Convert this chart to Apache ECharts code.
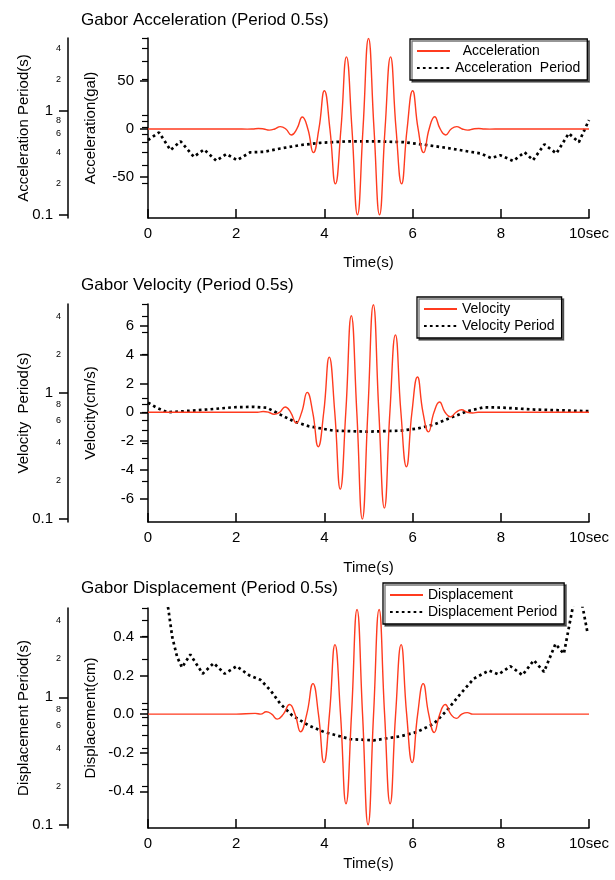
<!DOCTYPE html>
<html><head><meta charset="utf-8">
<script src="https://cdn.jsdelivr.net/npm/echarts@6/dist/echarts.min.js"></script>
<style>html,body{margin:0;padding:0;background:#fff}#c{width:615px;height:880px}</style>
</head><body><div id="c"></div>
<script>
// ---------- data ----------
const titles = ['Gabor Acceleration (Period 0.5s)', 'Gabor Velocity (Period 0.5s)', 'Gabor Displacement (Period 0.5s)'];
const xTickLabels = ['0', '2', '4', '6', '8', '10sec'];

const accT = [0, 1, 2, 2.25, 2.375, 2.5, 2.625, 2.75, 2.875, 3, 3.125, 3.25, 3.375, 3.5, 3.625, 3.75, 3.875, 4, 4.125, 4.25, 4.375, 4.5, 4.625, 4.75, 4.875, 5, 5.125, 5.25, 5.375, 5.5, 5.625, 5.75, 5.875, 6, 6.125, 6.25, 6.375, 6.5, 6.625, 6.75, 6.875, 7, 7.125, 7.25, 7.375, 7.5, 7.625, 7.75, 8, 9, 10];
const accV = [0, 0, 0, -0.2, 0, 0.5, 0, -1.2, 0, 2.4, 0, -6.3, 0, 12.5, 0, -24.7, 0, 39.9, 0, -57.3, 0, 75.3, 0, -89.6, 0, 94.5, 0, -89.6, 0, 75.3, 0, -57.3, 0, 39.9, 0, -24.7, 0, 12.8, 0, -6.3, 0, 2.4, 0, -1.2, 0, 0.5, 0, -0.2, 0, 0, 0];
const accPT = [0, 0.25, 0.51, 0.74, 1.04, 1.27, 1.55, 1.78, 2.02, 2.32, 2.63, 3.0, 3.46, 3.91, 4.52, 5.2, 5.8, 6.33, 6.86, 7.31, 7.54, 7.78, 7.99, 8.28, 8.54, 8.73, 8.99, 9.26, 9.54, 9.77, 10];
const accP = [0.524, 0.62, 0.42, 0.51, 0.362, 0.426, 0.332, 0.385, 0.336, 0.40, 0.404, 0.435, 0.469, 0.493, 0.509, 0.509, 0.5, 0.469, 0.435, 0.404, 0.39, 0.352, 0.375, 0.33, 0.40, 0.336, 0.476, 0.39, 0.607, 0.5, 0.815];

const velT = [0, 1, 2, 2.36, 2.485, 2.61, 2.735, 2.86, 2.985, 3.11, 3.235, 3.36, 3.485, 3.61, 3.735, 3.86, 3.985, 4.11, 4.235, 4.36, 4.485, 4.61, 4.735, 4.86, 4.985, 5.11, 5.235, 5.36, 5.485, 5.61, 5.735, 5.86, 5.985, 6.11, 6.235, 6.36, 6.485, 6.61, 6.735, 6.86, 6.985, 7.11, 7.235, 7.36, 7.485, 8, 9, 10];
const velV = [0, 0, 0, 0, 0, 0.05, 0, -0.14, 0, 0.37, 0, -0.74, 0, 1.38, 0, -2.39, 0, 3.82, 0, -5.33, 0, 6.69, 0, -7.4, 0, 7.45, 0, -6.64, 0, 5.36, 0, -3.77, 0, 2.44, 0, -1.36, 0, 0.71, 0, -0.32, 0, 0.18, 0, -0.05, 0, 0, 0, 0];
const velPT = [0, 0.2, 0.44, 0.81, 1.34, 1.95, 2.4, 2.7, 3.0, 3.31, 3.65, 4.21, 4.97, 5.73, 6.1, 6.48, 6.86, 7.24, 7.62, 7.99, 8.75, 10];
const velP = [0.83, 0.757, 0.698, 0.711, 0.733, 0.764, 0.77, 0.757, 0.668, 0.59, 0.54, 0.499, 0.49, 0.499, 0.518, 0.557, 0.63, 0.711, 0.764, 0.76, 0.733, 0.711];

const dispT = [0, 1, 2, 2.43, 2.555, 2.68, 2.805, 2.93, 3.07, 3.21, 3.335, 3.46, 3.6, 3.74, 3.865, 3.99, 4.115, 4.24, 4.365, 4.49, 4.615, 4.74, 4.865, 4.99, 5.115, 5.24, 5.365, 5.49, 5.615, 5.74, 5.865, 5.99, 6.115, 6.24, 6.365, 6.49, 6.615, 6.74, 6.865, 6.99, 7.115, 7.24, 7.365, 7.6, 8, 9, 10];
const dispV = [0, 0, 0, 0.004, 0, 0.012, 0, -0.026, 0, 0.05, 0, -0.091, 0, 0.158, 0, -0.251, 0, 0.36, 0, -0.464, 0, 0.542, 0, -0.573, 0, 0.542, 0, -0.464, 0, 0.36, 0, -0.251, 0, 0.158, 0, -0.095, 0, 0.05, 0, -0.022, 0, 0.008, 0, 0, 0, 0, 0];
const dispPT = [0, 0.3, 0.46, 0.55, 0.66, 0.77, 0.96, 1.24, 1.49, 1.74, 2.01, 2.29, 2.55, 2.78, 3.0, 3.27, 3.65, 3.99, 4.59, 5.12, 5.73, 6.1, 6.48, 6.78, 7.09, 7.39, 7.73, 7.95, 8.22, 8.49, 8.75, 8.98, 9.24, 9.43, 9.62, 9.75, 9.87, 9.97];
const dispP = [30, 9, 4.93, 2.96, 2.07, 1.71, 2.16, 1.53, 1.85, 1.53, 1.75, 1.49, 1.37, 1.13, 0.89, 0.72, 0.60, 0.535, 0.47, 0.46, 0.495, 0.535, 0.62, 0.79, 1.07, 1.40, 1.62, 1.51, 1.75, 1.49, 1.95, 1.58, 2.62, 2.19, 4.83, 7.5, 4.8, 3.15];

const accTicks = [-50, 0, 50];
const velTicks = [-6, -4, -2, 0, 2, 4, 6];
const dispTicks = [-0.4, -0.2, 0, 0.2, 0.4];
const perMajorTicks = [0.1, 1];
const perMajorLabels = ['0.1', '1'];
const perMinorTicks = [0.2, 0.3, 0.4, 0.5, 0.6, 0.7, 0.8, 0.9, 2, 3, 4, 5];
const perMinorLabelVals = [0.2, 0.4, 0.6, 0.8, 2, 4];
const perMinorLabels = ['2', '4', '6', '8', '2', '4'];

// ---------- chart ----------
const FONT = '"Liberation Sans", Arial, sans-serif';
const BLACK = '#000';
const RED = '#ff3b1f';
const zip = (a, b) => a.map((x, i) => [x, b[i]]);
function lookup(vals, labels, v) {
  let bi = 0, bd = Infinity;
  vals.forEach((x, i) => { const d = Math.abs(Math.log10(x) - Math.log10(v)); if (d < bd) { bd = d; bi = i; } });
  return labels[bi];
}
const axisLineStyle = { color: BLACK, width: 1.5 };
const txt = (size) => ({ fontSize: size, color: BLACK, fontFamily: FONT });

const panels = [
  { top: 38, height: 180, titleTop: 12, vMin: -93, vMax: 95, vTicks: accTicks, vFmt: v => String(v),
    vName: 'Acceleration(gal)', pMin: 0.0936, pName: 'Acceleration Period(s)', xNameGap: 37,
    sig: ['Acceleration', accT, accV], per: ['Acceleration  Period', accPT, accP],
    legend: { left: 410, top: 39 }, legendFmt: n => n === 'Acceleration' ? '  Acceleration' : n },
  { top: 304, height: 218, titleTop: 277, vMin: -7.6, vMax: 7.5, vTicks: velTicks, vFmt: v => String(v),
    vName: 'Velocity(cm/s)', pMin: 0.0947, pName: 'Velocity  Period(s)', xNameGap: 38,
    sig: ['Velocity', velT, velV], per: ['Velocity Period', velPT, velP],
    legend: { left: 417, top: 297 }, legendFmt: n => n },
  { top: 608, height: 220, titleTop: 580, vMin: -0.59, vMax: 0.55, vTicks: dispTicks, vFmt: v => v.toFixed(1),
    vName: 'Displacement(cm)', pMin: 0.0947, pName: 'Displacement Period(s)', xNameGap: 28,
    sig: ['Displacement', dispT, dispV], per: ['Displacement Period', dispPT, dispP],
    legend: { left: 383, top: 583 }, legendFmt: n => n }
];

const option = { animation: false, backgroundColor: '#fff', title: [], grid: [], xAxis: [], yAxis: [], legend: [], series: [] };

panels.forEach((p, i) => {
  option.title.push({ text: titles[i], left: 81, top: p.titleTop, padding: 0,
    textStyle: { fontSize: 17, fontWeight: 'normal', color: BLACK, fontFamily: FONT } });
  option.grid.push({ left: 148, right: 26, top: p.top, height: p.height, outerBoundsMode: 'none', containLabel: false });
  option.xAxis.push({
    gridIndex: i, type: 'value', min: 0, max: 10, interval: 2,
    axisLine: { show: true, onZero: false, lineStyle: axisLineStyle },
    axisTick: { show: true, inside: true, length: 9, lineStyle: axisLineStyle },
    axisLabel: { margin: 8, ...txt(15), formatter: v => xTickLabels[Math.round(v / 2)] },
    splitLine: { show: false },
    name: 'Time(s)', nameLocation: 'middle', nameGap: p.xNameGap, nameTextStyle: txt(15), nameMoveOverlap: false
  });
  const base = option.yAxis.length;
  // value axis
  option.yAxis.push({
    gridIndex: i, type: 'value', min: p.vMin, max: p.vMax, position: 'left',
    axisLine: { show: true, onZero: false, lineStyle: axisLineStyle },
    axisTick: { show: true, length: 8, customValues: p.vTicks, lineStyle: axisLineStyle },
    axisLabel: { customValues: p.vTicks, margin: 14, ...txt(15), formatter: p.vFmt },
    splitLine: { show: false },
    name: p.vName, nameLocation: 'middle', nameRotate: 90, nameGap: 50, nameTextStyle: txt(15), nameMoveOverlap: false
  });
  // period log axis, major ticks
  option.yAxis.push({
    gridIndex: i, type: 'log', logBase: 10, min: p.pMin, max: 5, position: 'left', offset: 80,
    axisLine: { show: true, onZero: false, lineStyle: axisLineStyle },
    axisTick: { show: true, length: 9, customValues: perMajorTicks, lineStyle: axisLineStyle },
    axisLabel: { customValues: perMajorTicks, margin: 15, ...txt(15), formatter: v => lookup(perMajorTicks, perMajorLabels, v) },
    splitLine: { show: false },
    name: p.pName, nameLocation: 'middle', nameRotate: 90, nameGap: 37, nameTextStyle: txt(15), nameMoveOverlap: false
  });
  // period log axis, minor ticks
  option.yAxis.push({
    gridIndex: i, type: 'log', logBase: 10, min: p.pMin, max: 5, position: 'left', offset: 80,
    axisLine: { show: false },
    axisTick: { show: true, length: 6, customValues: perMinorTicks, lineStyle: { color: BLACK, width: 1.2 } },
    axisLabel: { customValues: perMinorLabelVals, margin: 7, ...txt(9), formatter: v => lookup(perMinorLabelVals, perMinorLabels, v) },
    splitLine: { show: false }
  });
  option.series.push({
    name: p.per[0], type: 'line', xAxisIndex: i, yAxisIndex: base + 1, data: zip(p.per[1], p.per[2]),
    symbol: 'none', smooth: false, clip: true,
    lineStyle: { color: BLACK, width: 2.7, type: [2.7, 3.2], cap: 'butt' }, itemStyle: { color: BLACK }
  });
  option.series.push({
    name: p.sig[0], type: 'line', xAxisIndex: i, yAxisIndex: base, data: zip(p.sig[1], p.sig[2]),
    symbol: 'none', smooth: true, clip: true,
    lineStyle: { color: RED, width: 1.4 }, itemStyle: { color: RED }
  });
  option.legend.push({
    orient: 'vertical', left: p.legend.left, top: p.legend.top, padding: [5, 7, 5, 6], itemGap: 3,
    itemWidth: 33, itemHeight: 14, data: [p.sig[0], p.per[0]], selectedMode: false,
    itemStyle: { opacity: 0 },
    textStyle: { ...txt(14), lineHeight: 14 }, formatter: p.legendFmt,
    borderColor: BLACK, borderWidth: 1.3, borderRadius: 0, backgroundColor: '#fff',
    shadowColor: 'rgba(0,0,0,0.55)', shadowBlur: 0, shadowOffsetX: 2, shadowOffsetY: 2
  });
});

const chart = echarts.init(document.getElementById('c'), null, { renderer: 'canvas' });
chart.setOption(option);
</script></body></html>
